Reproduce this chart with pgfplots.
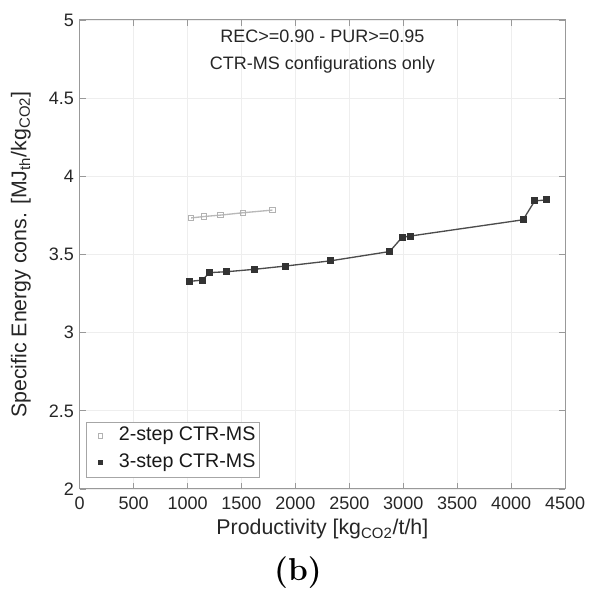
\documentclass[border=0pt]{standalone}
\usepackage{fontspec}
\setmainfont{Liberation Sans}
\newfontfamily\lmr{Latin Modern Roman}
\usepackage{pgfplots}
\pgfplotsset{compat=1.18}

\begin{document}
\begin{tikzpicture}
\path[use as bounding box] (0,0) rectangle (354pt,361.2pt);
\begin{axis}[
  at={(47.82pt,67.8pt)}, anchor=south west,
  scale only axis,
  width=291.2pt, height=281.4pt,
  xmin=0, xmax=4500, ymin=2, ymax=5,
  xtick={0,500,...,4500}, ytick={2,2.5,...,5},
  font=\fontsize{10.8}{13}\selectfont,
  /pgf/number format/assume math mode=true,
  scaled x ticks=false,
  xticklabel style={/pgf/number format/1000 sep={}, yshift=-1pt},
  yticklabel style={/pgf/number format/fixed},
  tick align=inside, major tick length=3.5pt,
  tick style={gray!80, line width=0.4pt},
  axis line style={gray!80, line width=0.6pt},
  grid=major, major grid style={gray!13, line width=0.4pt},
  xlabel={Productivity [kg\textsubscript{CO2}/t/h]},
  ylabel={Specific Energy cons. [MJ\textsubscript{th}/kg\textsubscript{CO2}]},
  label style={font=\fontsize{12.8}{15}\selectfont, text=black!85},
  xlabel style={yshift=1pt},
  ylabel style={yshift=4pt},
  ticklabel style={text=black!85},
]
\addplot[gray!55, line width=0.8pt, mark=square, mark size=1.6pt, mark options={gray!60, fill=white, line width=0.5pt}]
  coordinates {(1033,3.734) (1153,3.743) (1306,3.752) (1513,3.767) (1786,3.784)};
\addplot[black!70, line width=0.8pt, mark=square*, mark size=1.7pt, mark options={black!80, fill=black!80}]
  coordinates {(1018,3.328) (1135,3.336) (1205,3.384) (1365,3.390) (1617,3.405) (1906,3.426)
    (2321,3.459) (2874,3.519) (2989,3.610) (3065,3.618) (4111,3.722) (4219,3.843) (4329,3.849)};
\node[align=center, anchor=north, font=\fontsize{10.8}{16}\selectfont, text=black!85]
  at (axis cs:2250,4.975) {REC>=0.90 - PUR>=0.95\\CTR-MS configurations only};
\end{axis}
\begin{scope}[x=0.6pt,y=0.6pt]
% legend drawn manually to show markers only
\draw[gray!70, line width=0.5pt, fill=white] (86,602-477) rectangle (259,602-422);
\node[draw=gray!60, fill=white, line width=0.4pt, minimum size=2.6pt, inner sep=0pt] at (100,602-436) {};
\node[fill=black!80, minimum size=3pt, inner sep=0pt] at (100,602-463) {};
\node[anchor=west, font=\fontsize{11.8}{14}\selectfont, text=black!90] at (113,602-436) {2-step CTR-MS};
\node[anchor=west, font=\fontsize{11.8}{14}\selectfont, text=black!90] at (113,602-463) {3-step CTR-MS};
\node[font=\lmr\bfseries\fontsize{19}{22}\selectfont] at (298,602-573) {(b)};
\end{scope}
\end{tikzpicture}
\end{document}
